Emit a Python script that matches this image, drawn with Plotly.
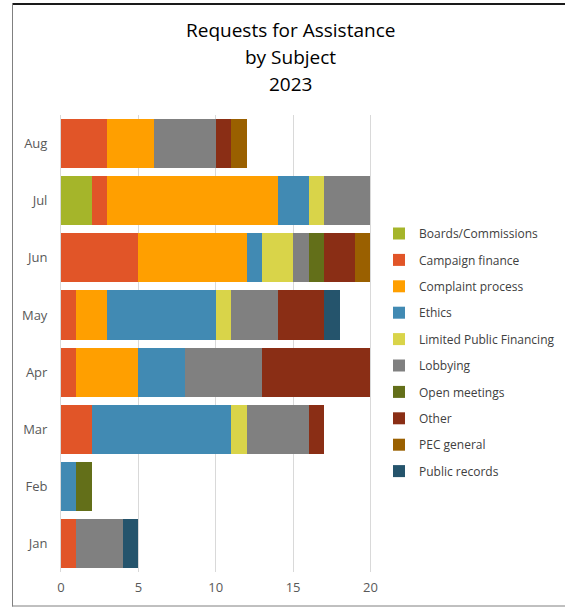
import plotly.graph_objects as go

months = ["Jan", "Feb", "Mar", "Apr", "May", "Jun", "Jul", "Aug"]

boards_commissions = [0, 0, 0, 0, 0, 0, 2, 0]
campaign_finance = [1, 0, 2, 1, 1, 5, 1, 3]
complaint_process = [0, 0, 0, 4, 2, 7, 11, 3]
ethics = [0, 1, 9, 3, 7, 1, 2, 0]
limited_public_financing = [0, 0, 1, 0, 1, 2, 1, 0]
lobbying = [3, 0, 4, 5, 3, 1, 3, 4]
open_meetings = [0, 1, 0, 0, 0, 1, 0, 0]
other = [0, 0, 1, 7, 3, 2, 0, 1]
pec_general = [0, 0, 0, 0, 0, 1, 0, 1]
public_records = [1, 0, 0, 0, 1, 0, 0, 0]

title_lines = ["Requests for Assistance", "by Subject", "2023"]

series = [
    ("Boards/Commissions", boards_commissions, "#A5B52A"),
    ("Campaign finance", campaign_finance, "#E15528"),
    ("Complaint process", complaint_process, "#FF9F00"),
    ("Ethics", ethics, "#418AB3"),
    ("Limited Public Financing", limited_public_financing, "#D9D449"),
    ("Lobbying", lobbying, "#808080"),
    ("Open meetings", open_meetings, "#636F19"),
    ("Other", other, "#8A2E15"),
    ("PEC general", pec_general, "#9A6000"),
    ("Public records", public_records, "#25546C"),
]

x_ticks = [0, 5, 10, 15, 20]

FONT = "Open Sans, Liberation Sans, sans-serif"

fig = go.Figure()
for i, (name, vals, color) in enumerate(series):
    fig.add_trace(go.Bar(
        y=months, x=vals, name=name, orientation="h",
        marker=dict(color=color, line=dict(width=0)),
        legendgroup=f"g{i}",
    ))

W, H = 565, 607
L, R, T, B = 61, 193, 115, 35
pw, ph = W - L - R, H - T - B


def px_x(p):
    return (p - L) / pw


def px_y(p):
    return ((H - B) - p) / ph


annotations = []
for k, line in enumerate(title_lines):
    annotations.append(dict(
        text=line, xref="paper", yref="paper",
        x=px_x(290), y=px_y(30 + 27 * k),
        xanchor="center", yanchor="middle", showarrow=False,
        font=dict(size=19, color="#000000", family=FONT),
    ))

fig.update_layout(
    width=W, height=H,
    barmode="stack", bargap=0.14,
    margin=dict(l=L, r=R, t=T, b=B, autoexpand=False),
    paper_bgcolor="white", plot_bgcolor="white",
    font=dict(family=FONT, color="#595959", size=12),
    xaxis=dict(
        range=[0, 20.1], tickvals=x_ticks, showgrid=True, gridcolor="#D9D9D9",
        gridwidth=1, zeroline=False, showline=False, ticks="",
        tickfont=dict(size=13, color="#595959"), automargin=False,
        ticklabelstandoff=6,
    ),
    yaxis=dict(
        categoryorder="array", categoryarray=months, showgrid=False,
        showline=True, linecolor="#D9D9D9", ticks="",
        tickfont=dict(size=13, color="#595959"), automargin=False,
        ticklabelstandoff=10,
    ),
    legend=dict(
        x=px_x(379), xanchor="left", y=px_y(219), yanchor="top",
        traceorder="grouped", tracegroupgap=7.4, bgcolor="rgba(0,0,0,0)",
        font=dict(size=12, color="#404040", family=FONT), itemwidth=30,
    ),
    annotations=annotations,
    shapes=[
        dict(type="line", xref="paper", yref="paper",
             x0=px_x(12), x1=px_x(566), y0=px_y(4), y1=px_y(4),
             line=dict(color="#1A1A1A", width=2), layer="above"),
        dict(type="line", xref="paper", yref="paper",
             x0=px_x(12.5), x1=px_x(12.5), y0=px_y(3), y1=px_y(606.5),
             line=dict(color="#808080", width=1), layer="above"),
        dict(type="line", xref="paper", yref="paper",
             x0=px_x(12), x1=px_x(566), y0=px_y(606), y1=px_y(606),
             line=dict(color="#808080", width=1), layer="above"),
    ],
)

fig.write_html("out.html", config={"displayModeBar": False},
               post_script="document.body.style.margin='0';")
